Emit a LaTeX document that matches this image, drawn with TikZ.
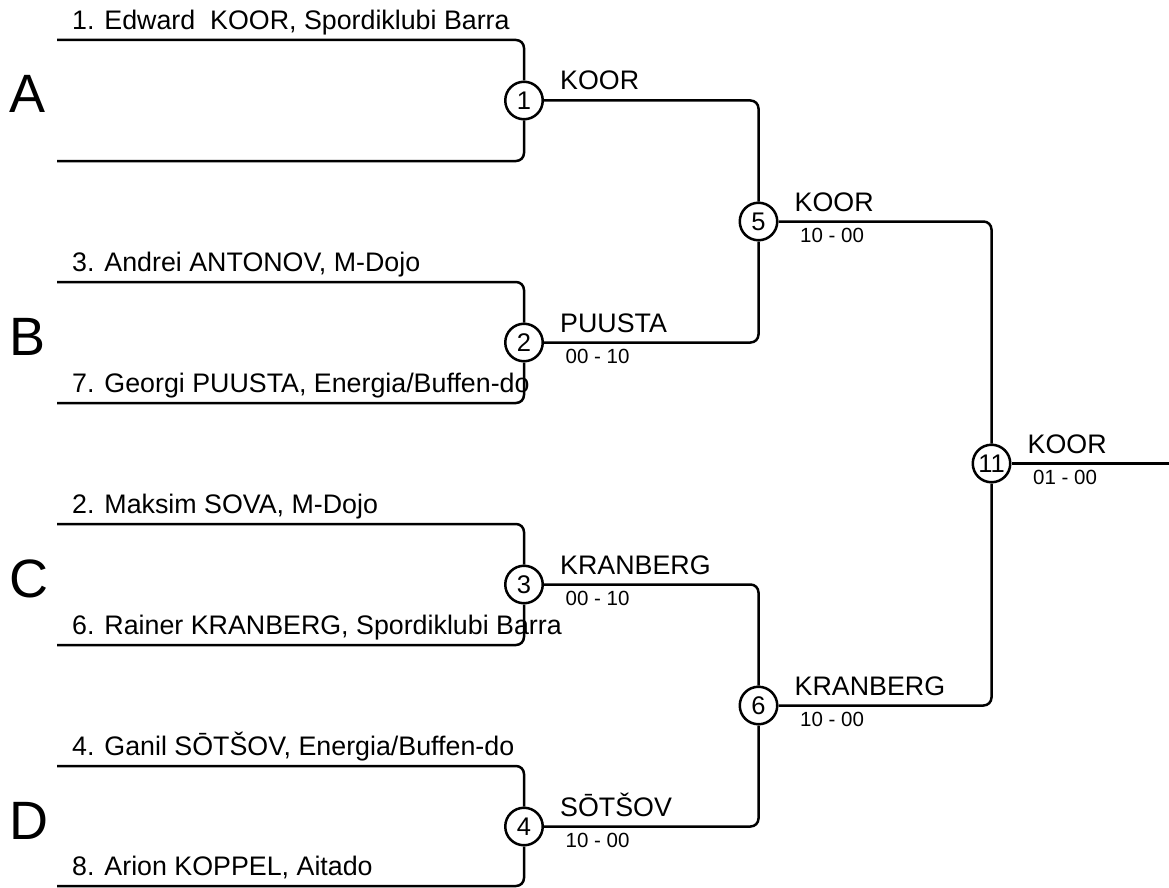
\documentclass[tikz,border=0pt]{standalone}
\usepackage{fontspec}
\setmainfont{Liberation Sans}
\begin{document}
\begin{tikzpicture}[x=1pt,y=1pt,
  line/.style={line width=2.5pt, rounded corners=8pt},
  match/.style={circle, draw, line width=2.5pt, minimum size=37.5pt, inner sep=0pt, fill=white, font=\fontsize{25.5}{26}\selectfont},
  player/.style={anchor=base west, inner sep=0pt, font=\fontsize{26.8}{27}\selectfont},
  winner/.style={anchor=base west, inner sep=0pt, font=\fontsize{26.8}{27}\selectfont},
  score/.style={anchor=base west, inner sep=0pt, font=\fontsize{20.5}{21}\selectfont},
  pool/.style={anchor=base west, inner sep=0pt, font=\fontsize{54}{55}\selectfont}]
\useasboundingbox (0,0) rectangle (1169,-888);

% match circles
\node[match] (c1) at (524,-100.5) {1};
\node[match] (c2) at (524,-342.5) {2};
\node[match] (c3) at (524,-584.5) {3};
\node[match] (c4) at (524,-826.5) {4};
\node[match] (c5) at (758.5,-221.5) {5};
\node[match] (c6) at (758.5,-705.5) {6};
\node[match] (c11) at (991.5,-463.5) {11};

% line starts
\coordinate (p1) at (57,-40);
\coordinate (p2) at (57,-161);
\coordinate (p3) at (57,-282);
\coordinate (p4) at (57,-403);
\coordinate (p5) at (57,-524);
\coordinate (p6) at (57,-645);
\coordinate (p7) at (57,-766);
\coordinate (p8) at (57,-886);
\coordinate (fin) at (1169,-463.5);

% pool letters
\node[pool] (pa) at (9.5,-113) {A};
\node[pool] (pb) at (9.5,-355) {B};
\node[pool] (pc) at (9.5,-597) {C};
\node[pool] (pd) at (9.5,-839) {D};

% players
\node[player] (t1) at (72,-29.5) {1. Edward\ \ KOOR, Spordiklubi Barra};
\node[player] (t3) at (72,-271.5) {3. Andrei ANTONOV, M-Dojo};
\node[player] (t7) at (72,-392.5) {7. Georgi PUUSTA, Energia/Buffen-do};
\node[player] (t2) at (72,-513.5) {2. Maksim SOVA, M-Dojo};
\node[player] (t6) at (72,-634.5) {6. Rainer KRANBERG, Spordiklubi Barra};
\node[player] (t4) at (72,-755.5) {4. Ganil SŌTŠOV, Energia/Buffen-do};
\node[player] (t8) at (72,-875.5) {8. Arion KOPPEL, Aitado};

% connectors
\draw[line] (p1) -| (c1);
\draw[line] (p2) -| (c1);
\draw[line] (p3) -| (c2);
\draw[line] (p4) -| (c2);
\draw[line] (p5) -| (c3);
\draw[line] (p6) -| (c3);
\draw[line] (p7) -| (c4);
\draw[line] (p8) -| (c4);
\draw[line] (c1) -| (c5);
\draw[line] (c2) -| (c5);
\draw[line] (c3) -| (c6);
\draw[line] (c4) -| (c6);
\draw[line] (c5) -| (c11);
\draw[line] (c6) -| (c11);
\draw[line] (c11) -- (fin);

% winners and scores
\node[winner] (w1) at ([shift={(36,10.5)}]c1.center) {KOOR};
\node[winner] (w2) at ([shift={(36,10.5)}]c2.center) {PUUSTA};
\node[score] (s2) at ([shift={(41.5,-20.5)}]c2.center) {00 - 10};
\node[winner] (w3) at ([shift={(36,10.5)}]c3.center) {KRANBERG};
\node[score] (s3) at ([shift={(41.5,-20.5)}]c3.center) {00 - 10};
\node[winner] (w4) at ([shift={(36,10.5)}]c4.center) {SŌTŠOV};
\node[score] (s4) at ([shift={(41.5,-20.5)}]c4.center) {10 - 00};
\node[winner] (w5) at ([shift={(36,10.5)}]c5.center) {KOOR};
\node[score] (s5) at ([shift={(41.5,-20.5)}]c5.center) {10 - 00};
\node[winner] (w6) at ([shift={(36,10.5)}]c6.center) {KRANBERG};
\node[score] (s6) at ([shift={(41.5,-20.5)}]c6.center) {10 - 00};
\node[winner] (w11) at ([shift={(36,10.5)}]c11.center) {KOOR};
\node[score] (s11) at ([shift={(41.5,-20.5)}]c11.center) {01 - 00};
\end{tikzpicture}
\end{document}
